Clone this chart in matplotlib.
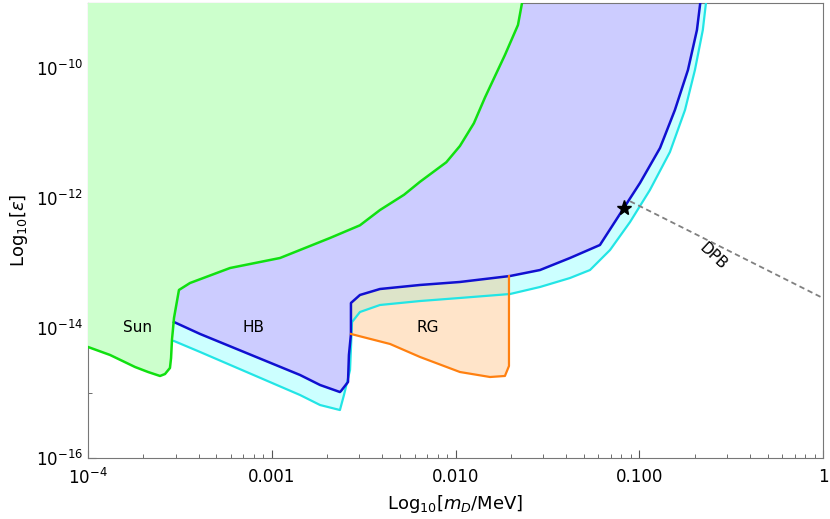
import numpy as np
import matplotlib
matplotlib.use("Agg")
import matplotlib.pyplot as plt
from matplotlib.ticker import FixedLocator, FixedFormatter, NullFormatter

# log10 values
sun_x = [-4,-3.88,-3.744,-3.673,-3.608,-3.581,-3.554,-3.548,-3.543,-3.532,-3.505,-3.445,-3.227,-2.955,-2.683,-2.520,-2.411,-2.28,-2.193,-2.05,-1.976,-1.90,-1.839,-1.731,-1.660,-1.638]
sun_y = [-14.292,-14.415,-14.6,-14.677,-14.738,-14.708,-14.615,-14.462,-14.185,-13.846,-13.415,-13.308,-13.077,-12.923,-12.615,-12.42,-12.185,-11.95,-11.75,-11.45,-11.2,-10.85,-10.45,-9.8,-9.338,-9.0]
hb_x = [-3.532,-3.390,-2.846,-2.737,-2.629,-2.623,-2.585,-2.580,-2.569,-2.569,-2.520,-2.411,-2.193,-1.976,-1.703,-1.540,-1.377,-1.214,-1.105,-0.996,-0.887,-0.806,-0.735,-0.686,-0.668]
hb_y = [-13.908,-14.092,-14.723,-14.877,-14.985,-14.969,-14.831,-14.415,-14.092,-13.615,-13.492,-13.4,-13.338,-13.292,-13.2,-13.108,-12.923,-12.723,-12.246,-11.769,-11.231,-10.646,-10.031,-9.415,-9.0]
hb2_x = [-3.532,-3.390,-2.846,-2.737,-2.629,-2.607,-2.574,-2.563,-2.520,-2.411,-2.193,-1.976,-1.703,-1.540,-1.377,-1.268,-1.159,-1.050,-0.942,-0.833,-0.751,-0.697,-0.654,-0.637]
hb2_y = [-14.2,-14.369,-15.031,-15.185,-15.262,-15.031,-14.646,-13.908,-13.754,-13.646,-13.585,-13.538,-13.477,-13.369,-13.231,-13.108,-12.8,-12.369,-11.877,-11.292,-10.646,-10.031,-9.415,-9.0]
rg_x = [-2.569,-2.356,-2.193,-1.976,-1.812,-1.731,-1.709,-1.709]
rg_y = [-14.092,-14.246,-14.446,-14.677,-14.754,-14.738,-14.585,-13.2]
star = (-1.083, -12.15)
dpb_x = [-1.05, 0.0]
dpb_y = [-12.05, -13.54]

P = lambda a: 10.0 ** np.asarray(a)
XMIN, XMAX, YMIN, YMAX = -4, 0, -16, -9

fig = plt.figure(figsize=(8.3, 5.19), dpi=100)
ax = fig.add_axes([88/830, 61/519, 735/830, 455/519])
ax.set_xscale("log"); ax.set_yscale("log")

cx = list(hb2_x) + [hb2_x[-1], sun_x[9]]
cy = list(hb2_y) + [YMAX, YMAX]
ax.fill(P(cx), P(cy), color="#ccffff", lw=0, zorder=1)
bx = list(hb_x) + [hb_x[-1], hb_x[0]]
by = list(hb_y) + [YMAX, YMAX]
ax.fill(P(bx), P(by), color="#ccccff", lw=0, zorder=2)
hx = np.array(hb_x[9:]); hy = np.array(hb_y[9:])
sel = hx < rg_x[-1]
px = list(rg_x) + list(hx[sel][::-1])
py = list(rg_y) + list(hy[sel][::-1])
ax.fill(P(px), P(py), color="#ffb266", alpha=0.35, lw=0, zorder=3)
sx = list(sun_x) + [XMIN]
sy = list(sun_y) + [YMAX]
ax.fill(P(sx), P(sy), color="#ccffcc", lw=0, zorder=4)

ax.plot(P(hb2_x), P(hb2_y), color="#22e5e5", lw=1.6, zorder=5)
ax.plot(P(hb_x), P(hb_y), color="#1010d0", lw=1.8, zorder=6)
ax.plot(P(rg_x), P(rg_y), color="#ff8010", lw=1.6, zorder=6)
ax.plot(P(sun_x), P(sun_y), color="#10e010", lw=1.8, zorder=7)
ax.plot(P(dpb_x), P(dpb_y), color="gray", lw=1.3, ls=(0, (3, 2)), zorder=6)
ax.plot([10**star[0]], [10**star[1]], marker="*", color="black", ms=11, zorder=8)

ax.text(10**-3.73, 10**-14.0, "Sun", fontsize=11, ha="center", va="center", zorder=9)
ax.text(10**-3.1, 10**-14.0, "HB", fontsize=11, ha="center", va="center", zorder=9)
ax.text(10**-2.15, 10**-14.0, "RG", fontsize=11, ha="center", va="center", zorder=9)
ax.text(10**-0.6, 10**-12.9, "DPB", fontsize=11, ha="center", va="center", rotation=-43, zorder=9)

ax.set_xlim(10**XMIN, 10**XMAX); ax.set_ylim(10**YMIN, 10**YMAX)
ax.xaxis.set_major_locator(FixedLocator([1e-4, 1e-3, 1e-2, 1e-1, 1]))
ax.xaxis.set_major_formatter(FixedFormatter(["$10^{-4}$", "0.001", "0.010", "0.100", "1"]))
ax.yaxis.set_major_locator(FixedLocator([1e-16, 1e-14, 1e-12, 1e-10]))
ax.yaxis.set_major_formatter(FixedFormatter(["$10^{-16}$", "$10^{-14}$", "$10^{-12}$", "$10^{-10}$"]))
ax.yaxis.set_minor_locator(FixedLocator([1e-15, 1e-13, 1e-11, 1e-9]))
ax.yaxis.set_minor_formatter(NullFormatter())
xm = [m * 10.0**d for d in range(-4, 0) for m in range(2, 10)]
ax.xaxis.set_minor_locator(FixedLocator(xm))
ax.xaxis.set_minor_formatter(NullFormatter())
ax.tick_params(which="both", direction="in", labelsize=12, colors="#555555", labelcolor="black", top=False, right=False)
ax.tick_params(which="major", length=6)
ax.tick_params(which="minor", length=3)
ax.tick_params(axis="x", pad=7)
for s in ax.spines.values():
    s.set_color("#777777")
ax.set_xlabel("Log$_{10}$[$m_D$/MeV]", fontsize=13)
ax.set_ylabel("Log$_{10}$[$\\epsilon$]", fontsize=13)
fig.savefig("out.png", dpi=100)
